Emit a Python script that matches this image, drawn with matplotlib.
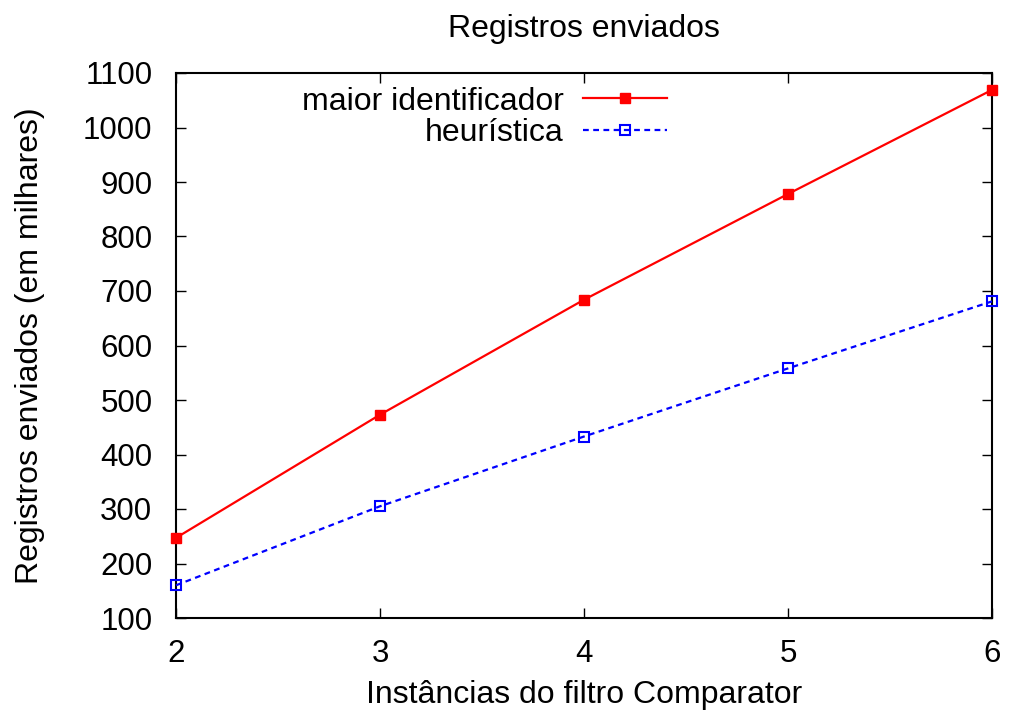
import matplotlib
matplotlib.use('Agg')
import matplotlib.pyplot as plt

plt.rcParams['font.family'] = ['Liberation Sans', 'DejaVu Sans']

# Dados (em milhares)
instancias = [2, 3, 4, 5, 6]
maior_id = [247, 473, 684, 878, 1069]
heuristica = [160, 305, 433, 558, 681]

fig = plt.figure(figsize=(10.09, 7.18), dpi=100)
ax = fig.add_axes([176 / 1009, 1 - 618 / 718, 816 / 1009, 545 / 718])

ax.plot(instancias, maior_id, color='red', lw=1.6, marker='s', ms=7,
        mec='red', mfc='red', label='maior identificador', clip_on=False, zorder=3)
ax.plot(instancias, heuristica, color='blue', lw=1.6, ls=(0, (2.6, 2)), marker='s', ms=7,
        mec='blue', mfc='none', mew=1.5, label='heurística', clip_on=False, zorder=3)

ax.set_xlim(2, 6)
ax.set_ylim(100, 1100)
ax.set_xticks(instancias)
ax.set_yticks(range(100, 1101, 100))
ax.tick_params(direction='in', length=7, width=1, top=True, right=True,
               labelsize=22.5)
ax.tick_params(axis='y', pad=17)
ax.tick_params(axis='x', pad=15)
for s in ax.spines.values():
    s.set_linewidth(1.5)

ax.set_title('Registros enviados', fontsize=23, pad=26)
ax.set_xlabel('Instâncias do filtro Comparator', fontsize=23, labelpad=8)
ax.set_ylabel('Registros enviados (em milhares)', fontsize=23, labelpad=27)

ax.legend(loc='upper right', bbox_to_anchor=(0.602, 0.975), frameon=False,
          markerfirst=False, fontsize=23, handlelength=2.65, handletextpad=0.6,
          borderpad=0, borderaxespad=0, labelspacing=0.05)

fig.savefig('out.png', dpi=100)
